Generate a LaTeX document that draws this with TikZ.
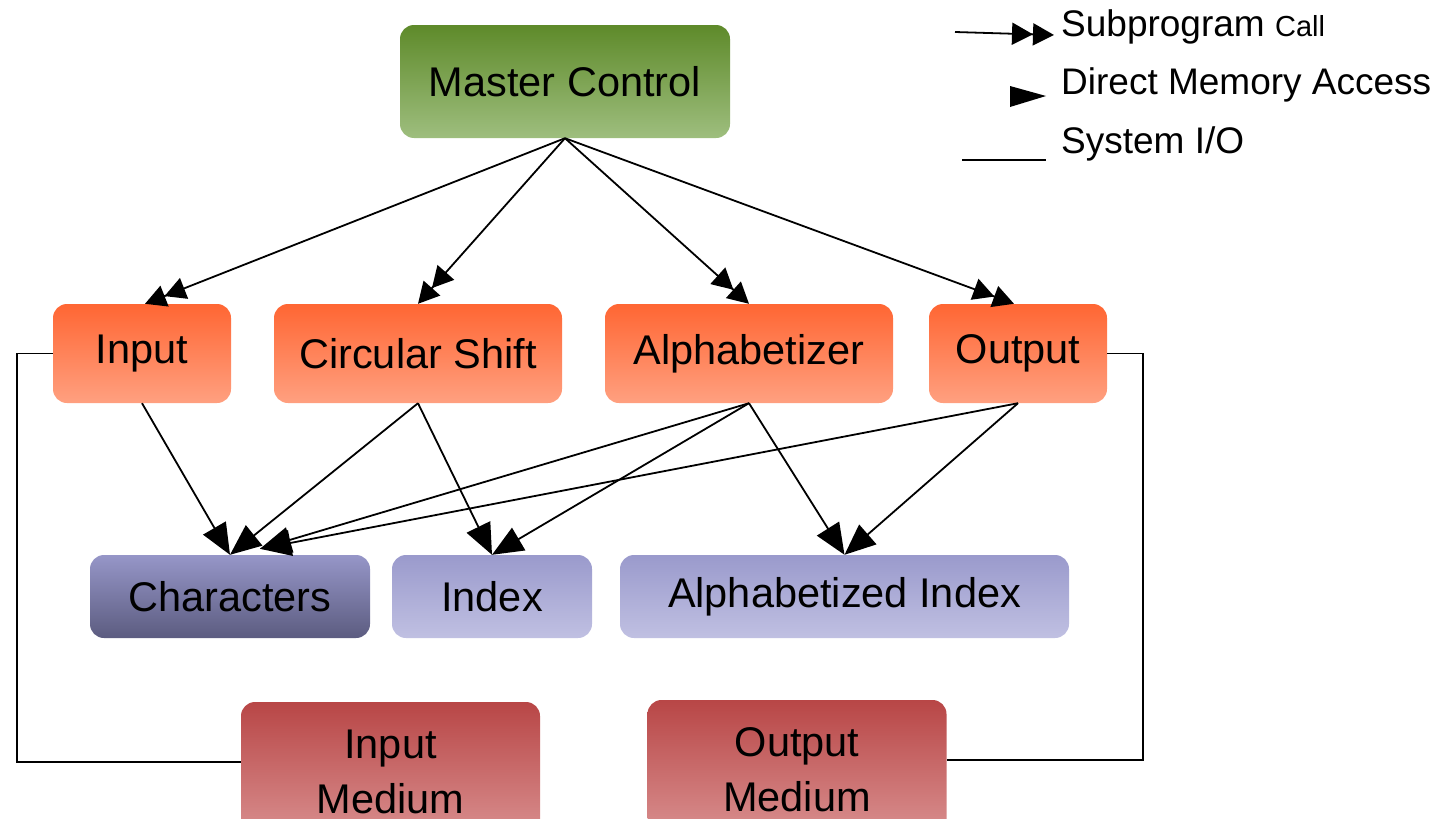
\documentclass[tikz,border=0pt]{standalone}
\usepackage{fontspec}
\setmainfont{Liberation Sans}
\usetikzlibrary{arrows.meta,calc}
\definecolor{mctop}{HTML}{5E8A2A}
\definecolor{mcbot}{HTML}{9EBE7E}
\definecolor{ortop}{HTML}{FF6633}
\definecolor{orbot}{HTML}{FFA080}
\definecolor{chtop}{HTML}{9696C8}
\definecolor{chbot}{HTML}{5C5C80}
\definecolor{ixtop}{HTML}{9A9ACC}
\definecolor{ixbot}{HTML}{C0C0E2}
\definecolor{mdtop}{HTML}{B84646}
\definecolor{mdbot}{HTML}{DA9292}
\tikzset{
  box/.style={rounded corners=14pt, inner sep=0pt, align=center,
    font=\fontsize{41.5}{55}\selectfont},
  mcbox/.style={box, top color=mctop, bottom color=mcbot},
  orbox/.style={box, top color=ortop, bottom color=orbot, minimum height=99pt},
  chbox/.style={box, top color=chtop, bottom color=chbot, minimum height=83pt},
  ixbox/.style={box, top color=ixtop, bottom color=ixbot, minimum height=83pt},
  mdbox/.style={box, top color=mdtop, bottom color=mdbot, minimum height=140pt, minimum width=299pt},
  callarrow/.style={line width=1.8pt, -{Triangle[length=21pt,width=22pt] Triangle[length=21pt,width=22pt]}},
  dma/.style={line width=1.8pt, -{Triangle[length=31pt,width=26pt]}},
  sysio/.style={line width=1.8pt},
  legend/.style={anchor=base west, inner sep=0pt, font=\fontsize{37}{44}\selectfont}
}
\begin{document}
\begin{tikzpicture}[x=1pt,y=-1pt]
\useasboundingbox (0,0) rectangle (1449,819);
\clip (0,0) rectangle (1449,819);
% nodes
\node[mcbox, minimum width=330pt, minimum height=113pt] (mc) at (565,81.5) {Master Control};
\node[orbox, minimum width=178pt] (in) at (142,353.5) {Input};
\node[orbox, minimum width=288pt] (cs) at (418,353.5) {Circular Shift};
\node[orbox, minimum width=288pt] (al) at (749,353.5) {Alphabetizer};
\node[orbox, minimum width=178pt] (out) at (1018,353.5) {Output};
\node[chbox, minimum width=280pt] (ch) at (230,596.5) {Characters};
\node[ixbox, minimum width=200pt] (ix) at (492,596.5) {Index};
\node[ixbox, minimum width=449pt] (ai) at (844.5,596.5) {Alphabetized Index};
\node[mdbox] (im) at (390.5,772) {Input\\Medium};
\node[mdbox] (om) at (797,770) {Output\\Medium};
% subprogram calls
\draw[callarrow] (mc.south) -- ($(in.north)+(3pt,0pt)$);
\draw[callarrow] (mc.south) -- (cs.north);
\draw[callarrow] (mc.south) -- (al.north);
\draw[callarrow] (mc.south) -- ($(out.north)+(-4pt,0pt)$);
% direct memory access
\draw[dma] (in.south) -- (ch.north);
\draw[dma] (cs.south) -- (ch.north);
\draw[dma] (cs.south) -- (ix.north);
\draw[dma] (al.south) -- ($(ch.north)+(30pt,6pt)$);
\draw[dma] (al.south) -- (ix.north);
\draw[dma] (al.south) -- (ai.north);
\draw[dma] (out.south) -- ($(ch.north)+(30pt,6pt)$);
\draw[dma] (out.south) -- (ai.north);
% system I/O
\coordinate (c1) at (17,353.5);
\coordinate (c2) at (17,762);
\coordinate (c3) at (1143,353.5);
\coordinate (c4) at (1143,760);
\draw[sysio] (in.west) -- (c1) -- (c2) -- (im.west |- c2);
\draw[sysio] (out.east) -- (c3) -- (c4) -- (om.east |- c4);
% legend
\coordinate (la) at (955,32);
\coordinate (lb) at (1054,35);
\draw[callarrow] (la) -- (lb);
\node[legend] (t1) at (1061,36) {Subprogram {\fontsize{29}{34}\selectfont Call}};
\fill (1010,86) -- (1046,96) -- (1010,107) -- cycle;
\node[legend] (t2) at (1061,94) {Direct Memory Access};
\coordinate (lc) at (962,160);
\coordinate (ld) at (1046,160);
\draw[sysio] (lc) -- (ld);
\node[legend] (t3) at (1061,153) {System I/O};
\end{tikzpicture}
\end{document}
